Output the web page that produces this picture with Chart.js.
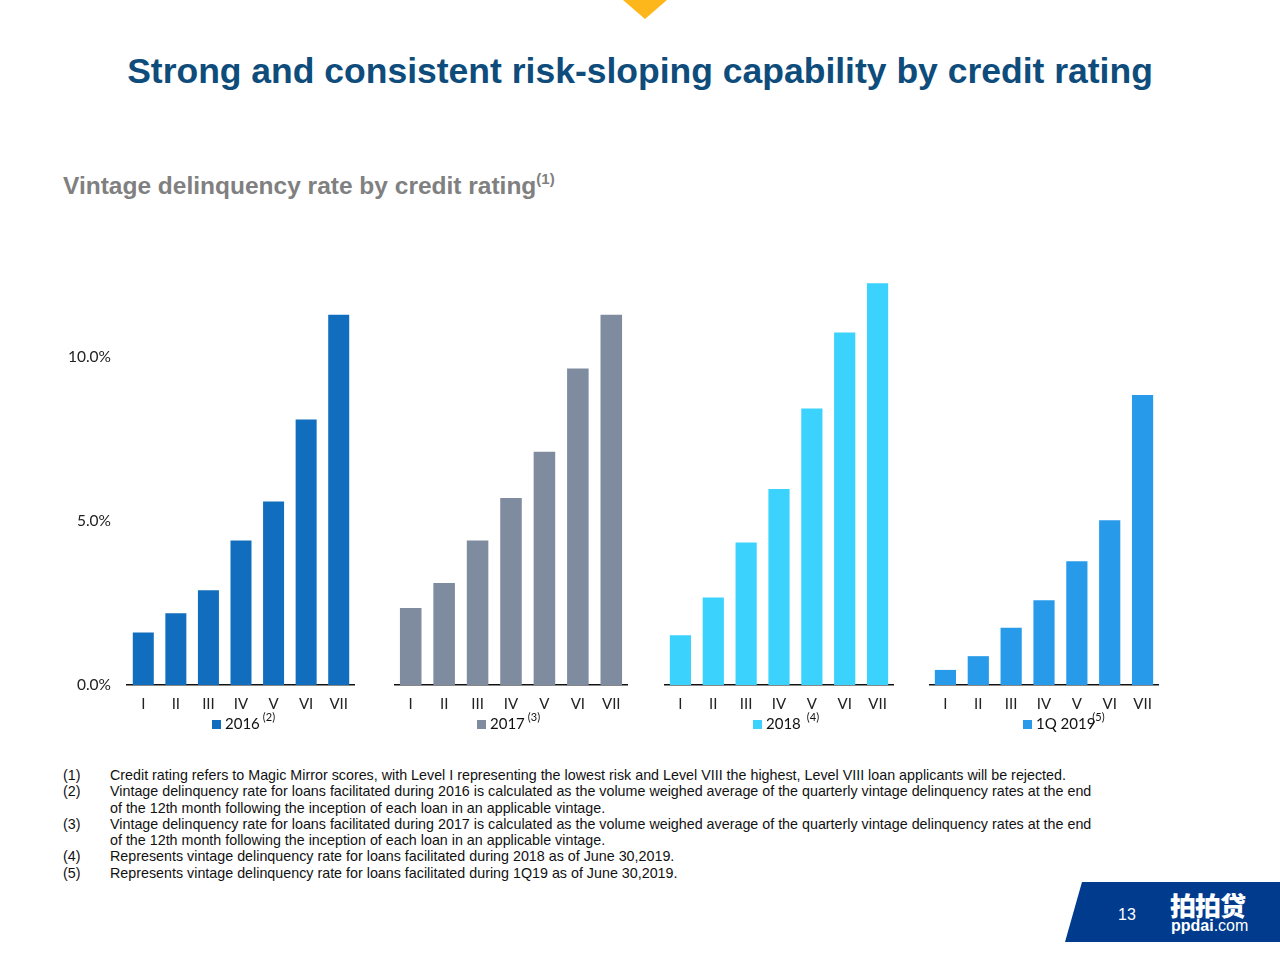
<!DOCTYPE html>
<html>
<head>
<meta charset="utf-8">
<script src="https://cdn.jsdelivr.net/npm/chart.js@4/dist/chart.umd.min.js"></script>
<style>
    body { margin: 0; background: #fff; }
    #page { position: relative; width: 1280px; height: 960px; overflow: hidden; font-family: "Liberation Sans", Arial, sans-serif; }
    #tri { position: absolute; left: 623px; top: 0; width: 0; height: 0;
        border-left: 22px solid transparent; border-right: 22px solid transparent; border-top: 19px solid #FDB71A; }
    #title { position: absolute; left: 0; width: 1280px; top: 51px; text-align: center;
        font-weight: bold; font-size: 35.5px; color: #0E4C7C; }
    #subtitle { position: absolute; left: 63px; top: 172px; font-weight: bold; font-size: 24.5px; color: #808080; }
    #subtitle sup { font-size: 15px; vertical-align: 10px; line-height: 0; }
    .box { position: absolute; top: 259px; height: 466px; }
    .legend { position: absolute; top: 714px; font-family: Lato, "Open Sans", sans-serif; font-size: 15px; color: #111; white-space: nowrap; }
    .legend i { display: inline-block; width: 9px; height: 9px; margin-right: 4px; vertical-align: 0px; }
    .legend sup { font-size: 11px; vertical-align: 8px; line-height: 0; margin-left: 3px; }
    #notes { position: absolute; left: 63px; top: 767px; font-size: 14.3px; line-height: 16.3px; color: #111; }
    #notes div { display: flex; }
    #notes span.n { width: 47px; flex: none; }
    #footer { position: absolute; left: 1065px; top: 882px; width: 230px; height: 60px; background: #003B8E;
        clip-path: polygon(17px 0, 100% 0, 100% 100%, 0 100%); }
    #pg { position: absolute; left: 1118px; top: 906px; color: #fff; font-size: 16px; }
    #logo1 { position: absolute; left: 1170px; top: 890px; color: #fff; font-family: "Noto Sans CJK SC", sans-serif; font-weight: 900; font-size: 26px; line-height: 30px; letter-spacing: -1px; }
    #logo2 { position: absolute; left: 1171px; top: 917px; color: #fff; font-size: 16px; font-weight: bold; }
    #logo2 span { font-weight: normal; }
</style>
</head>
<body>
<div id="page">
    <div id="tri"></div>
    <div id="title">Strong and consistent risk-sloping capability by credit rating</div>
    <div id="subtitle">Vintage delinquency rate by credit rating<sup>(1)</sup></div>

    <div class="box" style="left:60px;width:295px"><canvas id="c2016"></canvas></div>
    <div class="box" style="left:394px;width:234px"><canvas id="c2017"></canvas></div>
    <div class="box" style="left:664px;width:230px"><canvas id="c2018"></canvas></div>
    <div class="box" style="left:929px;width:230px"><canvas id="c1q2019"></canvas></div>

    <div class="legend" style="left:212px"><i style="background:#116EBE"></i>2016<sup>(2)</sup></div>
    <div class="legend" style="left:477px"><i style="background:#7F8CA0"></i>2017<sup>(3)</sup></div>
    <div class="legend" style="left:753px"><i style="background:#3BD3FD"></i>2018<sup style="margin-left:6px">(4)</sup></div>
    <div class="legend" style="left:1023px"><i style="background:#279BEA"></i>1Q 2019<sup style="margin-left:-3px">(5)</sup></div>

    <div id="notes">
        <div><span class="n">(1)</span><span>Credit rating refers to Magic Mirror scores, with Level I representing the lowest risk and Level VIII the highest, Level VIII loan applicants will be rejected.</span></div>
        <div><span class="n">(2)</span><span>Vintage delinquency rate for loans facilitated during 2016 is calculated as the volume weighed average of the quarterly vintage delinquency rates at the end<br>of the 12th month following the inception of each loan in an applicable vintage.</span></div>
        <div><span class="n">(3)</span><span>Vintage delinquency rate for loans facilitated during 2017 is calculated as the volume weighed average of the quarterly vintage delinquency rates at the end<br>of the 12th month following the inception of each loan in an applicable vintage.</span></div>
        <div><span class="n">(4)</span><span>Represents vintage delinquency rate for loans facilitated during 2018 as of June 30,2019.</span></div>
        <div><span class="n">(5)</span><span>Represents vintage delinquency rate for loans facilitated during 1Q19 as of June 30,2019.</span></div>
    </div>

    <div id="footer"></div>
    <div id="pg">13</div>
    <div id="logo1">拍拍贷</div>
    <div id="logo2">ppdai<span>.com</span></div>
</div>

<script>
// 信用等级
const ratings = ['I', 'II', 'III', 'IV', 'V', 'VI', 'VII'];
// 各年份逾期率 (%)
const rate2016 = [1.60, 2.19, 2.89, 4.41, 5.60, 8.10, 11.30];
const rate2017 = [2.35, 3.11, 4.41, 5.71, 7.12, 9.66, 11.30];
const rate2018 = [1.52, 2.67, 4.35, 5.98, 8.44, 10.76, 12.26];
const rate1q2019 = [0.46, 0.88, 1.75, 2.59, 3.78, 5.03, 8.85];
const yTicks = [0, 5, 10];

const drawChart = (id, label, values, color, showY) => {
    const ctx = document.getElementById(id).getContext('2d');
    new Chart(ctx, {
        type: 'bar',
        data: {
            labels: ratings,
            datasets: [{
                label: label,
                data: values,
                backgroundColor: color,
                borderWidth: 0,
                categoryPercentage: 1,
                barPercentage: 0.645
            }]
        },
        options: {
            responsive: true,
            maintainAspectRatio: false,
            animation: false,
            layout: { padding: 0 },
            plugins: { legend: { display: false }, tooltip: { enabled: false } },
            scales: {
                x: {
                    grid: { display: false, drawTicks: false },
                    border: { color: '#111', width: 1.5 },
                    ticks: { padding: 10, color: '#222', maxRotation: 0, autoSkip: false, font: { family: 'Lato', size: 15 } },
                    afterFit: (s) => { s.height = 40; s.paddingLeft = 0; s.paddingRight = 0; }
                },
                y: {
                    display: showY,
                    min: 0,
                    max: 13,
                    grid: { display: false, drawTicks: false },
                    border: { display: false },
                    afterBuildTicks: (s) => { s.ticks = yTicks.map(v => ({ value: v })); },
                    ticks: {
                        padding: 16,
                        color: '#222',
                        font: { family: 'Lato', size: 15.5 },
                        callback: (v) => v.toFixed(1) + '%'
                    },
                    afterFit: (s) => {
                        s.width = showY ? 67 : 0;
                        s.paddingTop = 0;
                        s.paddingBottom = 0;
                    }
                }
            }
        }
    });
}

drawChart('c2016', '2016', rate2016, '#116EBE', true);
drawChart('c2017', '2017', rate2017, '#7F8CA0', false);
drawChart('c2018', '2018', rate2018, '#3BD3FD', false);
drawChart('c1q2019', '1Q 2019', rate1q2019, '#279BEA', false);
</script>
</body>
</html>
